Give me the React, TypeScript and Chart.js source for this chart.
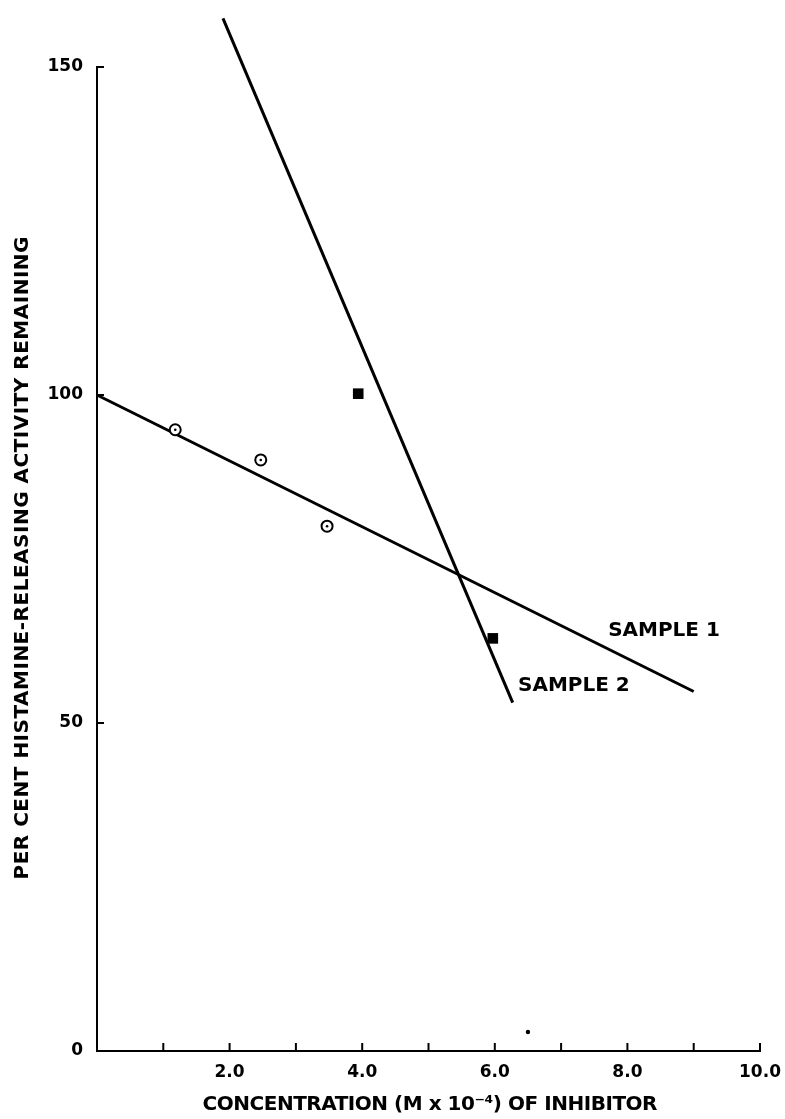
import React, { useEffect, useRef } from 'react';
import { Chart, registerables } from 'chart.js';

Chart.register(...registerables);

// ---- data ----
const sample1X = [1.18, 2.47, 3.47];
const sample1Y = [94.7, 90.1, 80.0];
const sample1FitX = [0, 9.0];
const sample1FitY = [100, 54.8];

const sample2X = [1.9, 3.94, 5.97];
const sample2Y = [157.4, 100.2, 62.9];
const sample2FitX = [1.9, 6.27];
const sample2FitY = [157.4, 53.1];

const speckX = [6.5];
const speckY = [2.9];

const xTickLabels = ['', '', '2.0', '', '4.0', '', '6.0', '', '8.0', '', '10.0'];
const yTickLabels = ['0', '50', '100', '150'];

const curveLabels = ['SAMPLE 1', 'SAMPLE 2'];
const curveLabelX = [7.71, 6.35];
const curveLabelY = [64.0, 55.6];

const xTitle = 'CONCENTRATION (M x 10⁻⁴) OF INHIBITOR';
const yTitle = 'PER CENT HISTAMINE-RELEASING ACTIVITY REMAINING';

const pts = (xs: number[], ys: number[]) => xs.map((x, i) => ({ x, y: ys[i] }));

const FONT = '"DejaVu Sans", sans-serif';

function fitText(ctx: CanvasRenderingContext2D, text: string, target: number) {
  ctx.letterSpacing = '0px';
  const w = ctx.measureText(text).width;
  const n = [...text].length;
  const sp = (target - w) / (n - 1);
  ctx.letterSpacing = `${sp}px`;
}

const decorPlugin = {
  id: 'decor',
  afterDraw(chart: any) {
    const { ctx, scales } = chart;
    const xs = scales.x;
    const ys = scales.y;
    const area = chart.chartArea;
    ctx.save();
    ctx.strokeStyle = '#000';
    ctx.lineWidth = 2;
    // inward tick marks on x axis
    xs.ticks.forEach((t: any) => {
      if (t.value <= 0) return;
      const px = xs.getPixelForValue(t.value);
      ctx.beginPath();
      ctx.moveTo(px, area.bottom);
      ctx.lineTo(px, area.bottom - 8);
      ctx.stroke();
    });
    // inward tick marks on y axis
    ys.ticks.forEach((t: any) => {
      if (t.value <= 0) return;
      const py = ys.getPixelForValue(t.value);
      ctx.beginPath();
      ctx.moveTo(area.left, py);
      ctx.lineTo(area.left + 7, py);
      ctx.stroke();
    });

    // curve labels
    ctx.fillStyle = '#000';
    ctx.font = `bold 20px ${FONT}`;
    ctx.textAlign = 'left';
    ctx.textBaseline = 'middle';
    curveLabels.forEach((s, i) => {
      ctx.fillText(s, xs.getPixelForValue(curveLabelX[i]), ys.getPixelForValue(curveLabelY[i]));
    });

    // axis titles
    ctx.font = `bold 20px ${FONT}`;
    ctx.textBaseline = 'middle';
    ctx.textAlign = 'left';
    fitText(ctx, xTitle, 455);
    ctx.fillText(xTitle, 430 - 455 / 2, 1105);

    ctx.translate(23, 558);
    ctx.rotate(-Math.PI / 2);
    fitText(ctx, yTitle, 643);
    ctx.fillText(yTitle, -643 / 2, 0);
    ctx.restore();
  },
};

export default function App() {
  const ref = useRef<HTMLCanvasElement | null>(null);
  useEffect(() => {
    if (!ref.current) return;
    const chart = new Chart(ref.current, {
      type: 'scatter',
      data: {
        datasets: [
          {
            label: 'Sample 1',
            data: pts(sample1X, sample1Y),
            pointStyle: 'circle',
            pointRadius: 5.5,
            borderWidth: 2,
            borderColor: '#000',
            backgroundColor: '#fff',
            clip: false,
            order: 1,
          },
          {
            label: 'Sample 1 centre',
            data: pts(sample1X, sample1Y),
            pointStyle: 'circle',
            pointRadius: 1.3,
            borderWidth: 0,
            backgroundColor: '#000',
            clip: false,
            order: 0,
          },
          {
            label: 'Sample 2',
            data: pts(sample2X, sample2Y),
            pointStyle: 'rect',
            pointRadius: 7.5,
            borderWidth: 0,
            backgroundColor: '#000',
            clip: false,
            order: 0,
          },
          {
            label: 'Sample 1 fit',
            data: pts(sample1FitX, sample1FitY),
            showLine: true,
            pointRadius: 0,
            borderWidth: 3,
            borderColor: '#000',
            clip: false,
            order: 2,
          },
          {
            label: 'Sample 2 fit',
            data: pts(sample2FitX, sample2FitY),
            showLine: true,
            pointRadius: 0,
            borderWidth: 3,
            borderColor: '#000',
            clip: false,
            order: 2,
          },
          {
            label: 'speck',
            data: pts(speckX, speckY),
            pointStyle: 'circle',
            pointRadius: 2.2,
            borderWidth: 0,
            backgroundColor: '#000',
            clip: false,
            order: 0,
          },
        ],
      },
      options: {
        responsive: false,
        animation: false,
        layout: { padding: { top: 67, right: 25, left: 0, bottom: 0 } },
        plugins: { legend: { display: false }, tooltip: { enabled: false } },
        scales: {
          x: {
            type: 'linear',
            min: 0,
            max: 10,
            afterFit: (s: any) => {
              s.height = 68;
              s.paddingLeft = 0;
              s.paddingRight = 0;
            },
            grid: { display: true, drawOnChartArea: false, drawTicks: false },
            border: { display: true, color: '#000', width: 2 },
            ticks: {
              stepSize: 1,
              autoSkip: false,
              maxRotation: 0,
              padding: 11,
              color: '#000',
              font: { family: FONT, size: 17, weight: 'bold' },
              callback: (v: any) => xTickLabels[Math.round(Number(v))] ?? '',
            },
          },
          y: {
            type: 'linear',
            min: 0,
            max: 150,
            afterFit: (s: any) => {
              s.width = 97;
              s.paddingTop = 0;
              s.paddingBottom = 0;
            },
            grid: { display: true, drawOnChartArea: false, drawTicks: false },
            border: { display: true, color: '#000', width: 2 },
            ticks: {
              stepSize: 50,
              autoSkip: false,
              padding: 14,
              color: '#000',
              font: { family: FONT, size: 17, weight: 'bold' },
              callback: (v: any) => yTickLabels[Math.round(Number(v) / 50)] ?? '',
            },
          },
        },
      },
      plugins: [decorPlugin],
    });
    return () => chart.destroy();
  }, []);
  return (
    <div style={{ position: 'fixed', left: 0, top: 0, width: 785, height: 1119, background: '#fff' }}>
      <canvas ref={ref} width={785} height={1119} style={{ display: 'block' }} />
    </div>
  );
}
